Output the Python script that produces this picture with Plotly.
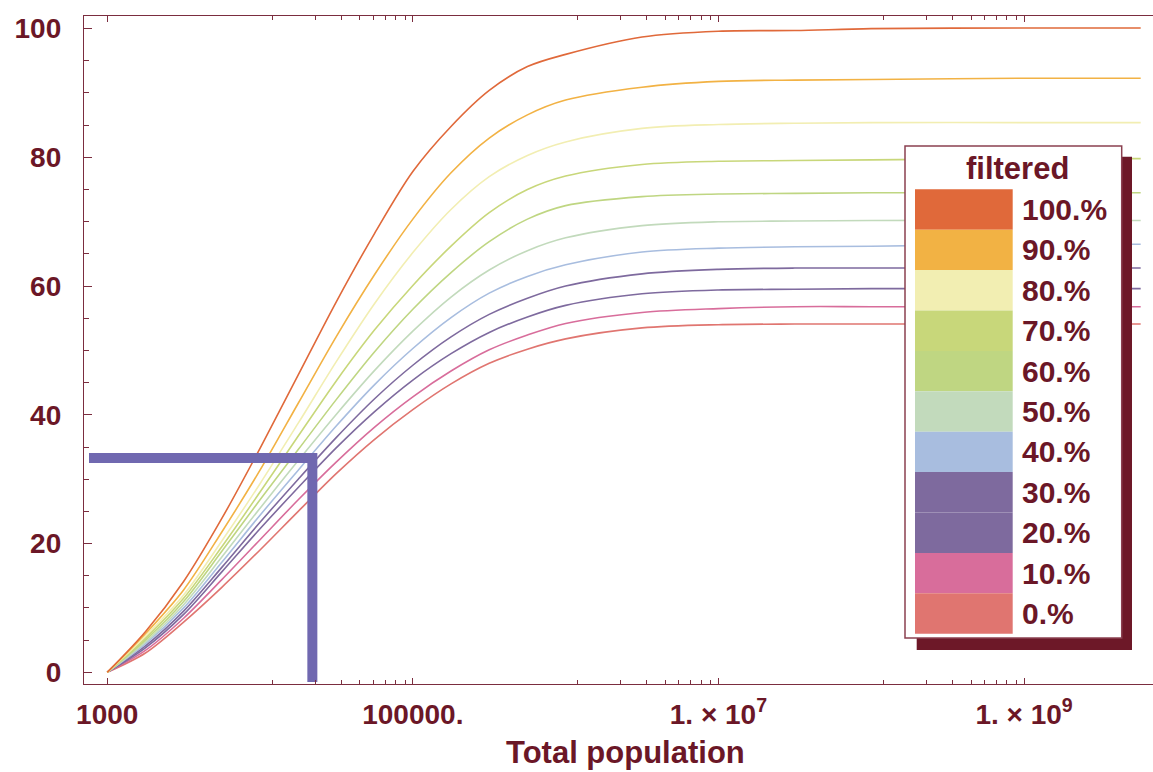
import plotly.graph_objects as go

# ---------------- data ----------------
population = [1000, 1778, 3162, 5623, 10000, 17783, 31623, 56234, 100000,
              177828, 316228, 562341, 1000000, 3162278, 10000000, 31622777,
              100000000, 1000000000, 5800000000]

categories = ["100.%", "90.%", "80.%", "70.%", "60.%", "50.%",
              "40.%", "30.%", "20.%", "10.%", "0.%"]

s100 = [0, 6.3, 14.1, 23.9, 34.8, 46.2, 57.6, 68.2, 77.8, 84.8, 90.4, 94.1, 96.0, 98.7, 99.6, 99.7, 100.0, 100.1, 100.1]
s90 = [0, 6.0, 12.8, 21.8, 31.4, 41.8, 52.2, 61.8, 70.4, 77.6, 83.0, 86.6, 88.9, 90.9, 91.8, 92.0, 92.1, 92.3, 92.3]
s80 = [0, 5.6, 12.0, 20.4, 29.3, 38.7, 48.3, 57.3, 65.2, 71.9, 77.0, 80.3, 82.4, 84.5, 85.1, 85.3, 85.4, 85.4, 85.4]
s70 = [0, 5.3, 11.5, 19.5, 28.0, 36.7, 45.3, 53.2, 60.1, 66.2, 71.4, 75.0, 77.1, 78.9, 79.4, 79.5, 79.6, 79.8, 79.8]
s60 = [0, 5.0, 11.0, 18.8, 26.8, 34.6, 42.4, 49.8, 56.4, 62.1, 66.9, 70.4, 72.5, 73.9, 74.3, 74.4, 74.5, 74.5, 74.5]
s50 = [0, 4.7, 10.5, 17.9, 25.5, 32.9, 40.1, 46.9, 53.0, 58.3, 62.5, 65.5, 67.5, 69.4, 70.0, 70.1, 70.2, 70.2, 70.2]
s40 = [0, 4.4, 10.0, 17.1, 24.4, 31.4, 38.3, 44.7, 50.3, 55.1, 58.9, 61.5, 63.3, 65.3, 65.9, 66.1, 66.2, 66.5, 66.5]
s30 = [0, 4.1, 9.5, 16.3, 23.3, 30.0, 36.5, 42.5, 47.7, 52.1, 55.6, 58.1, 60.0, 61.9, 62.6, 62.8, 62.8, 62.8, 62.8]
s20 = [0, 3.8, 9.0, 15.6, 22.3, 28.7, 34.9, 40.5, 45.4, 49.5, 52.8, 55.2, 57.0, 58.8, 59.4, 59.5, 59.6, 59.6, 59.6]
s10 = [0, 3.4, 8.4, 14.4, 20.6, 26.8, 32.7, 38.1, 42.8, 46.8, 50.1, 52.4, 54.2, 55.9, 56.5, 56.8, 56.8, 56.8, 56.8]
s0 = [0, 3.0, 7.8, 13.2, 19.0, 25.0, 30.9, 36.2, 40.8, 44.8, 48.0, 50.2, 51.8, 53.5, 54.0, 54.1, 54.1, 54.1, 54.1]

series = [s100, s90, s80, s70, s60, s50, s40, s30, s20, s10, s0]

colors = ["#E0693A", "#F2B244", "#F2EEB2", "#C8D77A", "#BFD682", "#C2DABC",
          "#A8BDDF", "#7E6A9E", "#7E6A9E", "#D86D9B", "#E07570"]

# thick purple guide
guide_x = [760, 22000, 22000]
guide_y = [33.3, 33.3, -1.5]

x_tickvals = [1000, 100000, 10000000, 1000000000]
x_ticktext = ["1000", "100000.", "1. × 10<sup>7</sup>", "1. × 10<sup>9</sup>"]
y_tickvals = [0, 20, 40, 60, 80, 100]

# ---------------- figure ----------------
W, H = 1153, 772
L, R, T, B = 84, 0, 16, 88
TXT = "#6B1727"
AX = "#7B2D3F"
FONT = "Liberation Sans"

fig = go.Figure()
for name, ys, col in reversed(list(zip(categories, series, colors))):
    fig.add_trace(go.Scatter(x=population, y=ys, mode="lines", name=name,
                             line=dict(color=col, width=1.6, shape="spline", smoothing=0.9),
                             showlegend=False, hoverinfo="skip"))

fig.add_trace(go.Scatter(x=guide_x, y=guide_y, mode="lines",
                         line=dict(color="#7068B0", width=10),
                         showlegend=False, hoverinfo="skip"))

minor_x = []
for n in [5, 7, 9]:
    for f in [0.12, 0.23, 0.34, 0.45, 0.55, 0.66, 0.77, 0.89]:
        minor_x.append(f * 10 ** n)

fig.update_xaxes(type="log", range=[2.848, 9.844],
                 tickmode="array", tickvals=x_tickvals, ticktext=x_ticktext,
                 ticks="inside", ticklen=6, tickwidth=1.3, tickcolor=AX,
                 showline=True, linecolor=AX, linewidth=1.3, mirror="ticks",
                 showgrid=False, zeroline=False,
                 minor=dict(tickmode="array", tickvals=minor_x, ticks="inside",
                            ticklen=3.5, tickwidth=1.3, tickcolor=AX, showgrid=False),
                 tickfont=dict(family=FONT, size=28, color=TXT, weight="bold"),
                 ticklabelstandoff=5)

fig.update_yaxes(range=[-1.82, 101.96],
                 tickmode="array", tickvals=y_tickvals,
                 ticks="inside", ticklen=8, tickwidth=1.3, tickcolor=AX,
                 showline=True, linecolor=AX, linewidth=1.3, mirror=False,
                 showgrid=False, zeroline=False,
                 minor=dict(dtick=5, ticks="inside", ticklen=5, tickwidth=1.3,
                            tickcolor=AX, showgrid=False),
                 tickfont=dict(family=FONT, size=28, color=TXT, weight="bold"),
                 ticklabelstandoff=16)

pw, ph = W - L - R, H - T - B


def px(x):
    return (x - L) / pw


def py(y):
    return (H - B - y) / ph


shapes = []
annotations = []
# shadow
shapes.append(dict(type="rect", xref="paper", yref="paper",
                   x0=px(916.7), x1=px(1132), y0=py(650), y1=py(156.7),
                   fillcolor="#6D1828", line=dict(width=0), layer="above"))
# box
shapes.append(dict(type="rect", xref="paper", yref="paper",
                   x0=px(905), x1=px(1121.7), y0=py(638), y1=py(146),
                   fillcolor="white", line=dict(color="#8A4050", width=1.5), layer="above"))
top0, hgt = 189.3, 40.4
for i, (name, col) in enumerate(zip(categories, colors)):
    y0 = top0 + i * hgt
    shapes.append(dict(type="rect", xref="paper", yref="paper",
                       x0=px(915), x1=px(1012.7), y0=py(y0 + hgt), y1=py(y0),
                       fillcolor=col, line=dict(width=0), layer="above"))
    annotations.append(dict(xref="paper", yref="paper", x=px(1020), y=py(y0 + hgt / 2),
                            text=name, showarrow=False, xanchor="left", yanchor="middle",
                            font=dict(family=FONT, size=30, color=TXT, weight="bold")))
annotations.append(dict(xref="paper", yref="paper", x=px(1017.5), y=py(168),
                        text="filtered", showarrow=False, xanchor="center", yanchor="middle",
                        font=dict(family=FONT, size=31, color=TXT, weight="bold")))
annotations.append(dict(xref="paper", yref="paper", x=px(625), y=py(752),
                        text="Total population", showarrow=False, xanchor="center",
                        yanchor="middle",
                        font=dict(family=FONT, size=31, color=TXT, weight="bold")))

fig.update_layout(width=W, height=H, margin=dict(l=L, r=R, t=T, b=B, pad=0),
                  paper_bgcolor="white", plot_bgcolor="white",
                  shapes=shapes, annotations=annotations, showlegend=False,
                  hovermode=False)

fig.write_html("out.html")
